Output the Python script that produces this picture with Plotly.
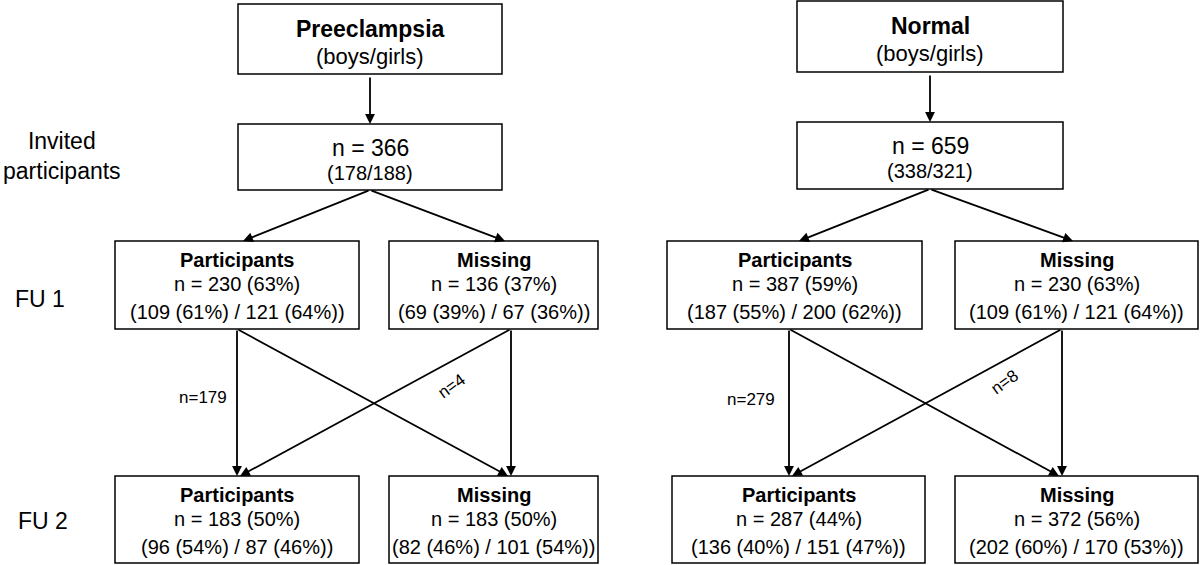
import plotly.graph_objs as go

# --- data ---
groups = ["Preeclampsia", "Normal"]
invited_n = [366, 659]
invited_boys = [178, 338]
invited_girls = [188, 321]

fu1_part_n = [230, 387]
fu1_part_pct = [63, 59]
fu1_part_boys = [109, 187]
fu1_part_boys_pct = [61, 55]
fu1_part_girls = [121, 200]
fu1_part_girls_pct = [64, 62]

fu1_miss_n = [136, 230]
fu1_miss_pct = [37, 63]
fu1_miss_boys = [69, 109]
fu1_miss_boys_pct = [39, 61]
fu1_miss_girls = [67, 121]
fu1_miss_girls_pct = [36, 64]

fu2_part_n = [183, 287]
fu2_part_pct = [50, 44]
fu2_part_boys = [96, 136]
fu2_part_boys_pct = [54, 40]
fu2_part_girls = [87, 151]
fu2_part_girls_pct = [46, 47]

fu2_miss_n = [183, 372]
fu2_miss_pct = [50, 56]
fu2_miss_boys = [82, 202]
fu2_miss_boys_pct = [46, 60]
fu2_miss_girls = [101, 170]
fu2_miss_girls_pct = [54, 53]

flow_stay = [179, 279]    # FU1 participants -> FU2 participants
flow_back = [4, 8]        # FU1 missing -> FU2 participants

row_labels = ["Invited<br>participants", "FU 1", "FU 2"]

# --- layout geometry (pixels, y downwards) ---
FONT = "Liberation Sans, Arial, Helvetica, sans-serif"
geo = [
    dict(top=(238, 502), part=(115, 359), miss=(389, 598),
         part2=(115, 359), miss2=(389, 598), vpart=237, vmiss=511,
         head_part=243, head_miss=505, lab_stay=(203, 397), lab_back=(451, 386)),
    dict(top=(797, 1063), part=(667, 922), miss=(955, 1198),
         part2=(672, 925), miss2=(955, 1198), vpart=789, vmiss=1062,
         head_part=799, head_miss=1073, lab_stay=(751, 399), lab_back=(1004, 382)),
]
title_y = [(4, 74), (1, 72)]
inv_y = [(124, 190), (122, 189)]
fu1_y = (241, 329)
fu2_y = (476, 563)

shapes = []
annotations = []


def box(x0, x1, y0, y1):
    shapes.append(dict(type="rect", xref="x", yref="y", x0=x0, x1=x1, y0=y0, y1=y1,
                       line=dict(color="black", width=1.5), fillcolor="white", layer="below"))


def text(x, y, s, size, angle=0):
    annotations.append(dict(x=x, y=y, xref="x", yref="y", text=s, showarrow=False,
                            textangle=angle, font=dict(family=FONT, size=size, color="black"),
                            xanchor="center", yanchor="middle"))


def arrow(x0, y0, x1, y1):
    annotations.append(dict(x=x1, y=y1, ax=x0, ay=y0, xref="x", yref="y", axref="x", ayref="y",
                            text="", showarrow=True, arrowhead=2, arrowsize=1.1,
                            arrowwidth=1.8, arrowcolor="black", standoff=0))


def three_lines(x0, x1, y0, head, n, pct, b, bp, g, gp, dy=(19, 43, 71)):
    cx = (x0 + x1) / 2
    text(cx, y0 + dy[0], "<b>%s</b>" % head, 20)
    text(cx, y0 + dy[1], "n = %d (%d%%)" % (n, pct), 20)
    text(cx, y0 + dy[2], "(%d (%d%%) / %d (%d%%))" % (b, bp, g, gp), 20)


for i, grp in enumerate(groups):
    g = geo[i]
    tx0, tx1 = g["top"]
    cx = (tx0 + tx1) / 2
    # group box
    box(tx0, tx1, title_y[i][0], title_y[i][1])
    text(cx, title_y[i][0] + 25, "<b>%s</b>" % grp, 23)
    text(cx, title_y[i][0] + 52, "(boys/girls)", 22)
    arrow(cx, title_y[i][1] + 2, cx, inv_y[i][0])
    # invited box
    box(tx0, tx1, inv_y[i][0], inv_y[i][1])
    text(cx, inv_y[i][0] + 24, "n = %d" % invited_n[i], 23)
    text(cx, inv_y[i][0] + 49, "(%d/%d)" % (invited_boys[i], invited_girls[i]), 20)
    arrow(cx, inv_y[i][1], g["head_part"], fu1_y[0])
    arrow(cx, inv_y[i][1], g["head_miss"], fu1_y[0])
    # FU1
    box(g["part"][0], g["part"][1], fu1_y[0], fu1_y[1])
    three_lines(g["part"][0], g["part"][1], fu1_y[0], "Participants", fu1_part_n[i], fu1_part_pct[i],
                fu1_part_boys[i], fu1_part_boys_pct[i], fu1_part_girls[i], fu1_part_girls_pct[i])
    box(g["miss"][0], g["miss"][1], fu1_y[0], fu1_y[1])
    three_lines(g["miss"][0], g["miss"][1], fu1_y[0], "Missing", fu1_miss_n[i], fu1_miss_pct[i],
                fu1_miss_boys[i], fu1_miss_boys_pct[i], fu1_miss_girls[i], fu1_miss_girls_pct[i])
    # FU1 -> FU2 arrows
    vp, vm = g["vpart"], g["vmiss"]
    arrow(vp, fu1_y[1], vp, fu2_y[0])
    arrow(vp, fu1_y[1], vm - 3, fu2_y[0])
    arrow(vm, fu1_y[1], vm, fu2_y[0])
    arrow(vm, fu1_y[1], vp + 3, fu2_y[0])
    text(g["lab_stay"][0], g["lab_stay"][1], "n=%d" % flow_stay[i], 17)
    text(g["lab_back"][0], g["lab_back"][1], "n=%d" % flow_back[i], 17, angle=-36)
    # FU2
    box(g["part2"][0], g["part2"][1], fu2_y[0], fu2_y[1])
    three_lines(g["part2"][0], g["part2"][1], fu2_y[0], "Participants", fu2_part_n[i], fu2_part_pct[i],
                fu2_part_boys[i], fu2_part_boys_pct[i], fu2_part_girls[i], fu2_part_girls_pct[i])
    box(g["miss2"][0], g["miss2"][1], fu2_y[0], fu2_y[1])
    three_lines(g["miss2"][0], g["miss2"][1], fu2_y[0], "Missing", fu2_miss_n[i], fu2_miss_pct[i],
                fu2_miss_boys[i], fu2_miss_boys_pct[i], fu2_miss_girls[i], fu2_miss_girls_pct[i])

# row labels on the left
text(62, 156, row_labels[0], 23)
text(40, 299, row_labels[1], 23)
text(43, 521, row_labels[2], 23)

fig = go.Figure()
fig.add_trace(go.Scatter(x=[0, 1200], y=[0, 565], mode="markers",
                         marker=dict(opacity=0), hoverinfo="skip", showlegend=False))
fig.update_layout(
    width=1200, height=565,
    margin=go.layout.Margin(l=0, r=0, t=0, b=0, pad=0),
    paper_bgcolor="white", plot_bgcolor="white",
    xaxis=dict(range=[0, 1200], visible=False, fixedrange=True),
    yaxis=dict(range=[565, 0], visible=False, fixedrange=True),
    shapes=shapes, annotations=annotations, showlegend=False,
)
# drop the default 8px page margin so the figure sits at the window's corner
fig.write_html("out.html", config=dict(displayModeBar=False),
               post_script="document.body.style.margin='0';document.body.style.overflow='hidden';")
